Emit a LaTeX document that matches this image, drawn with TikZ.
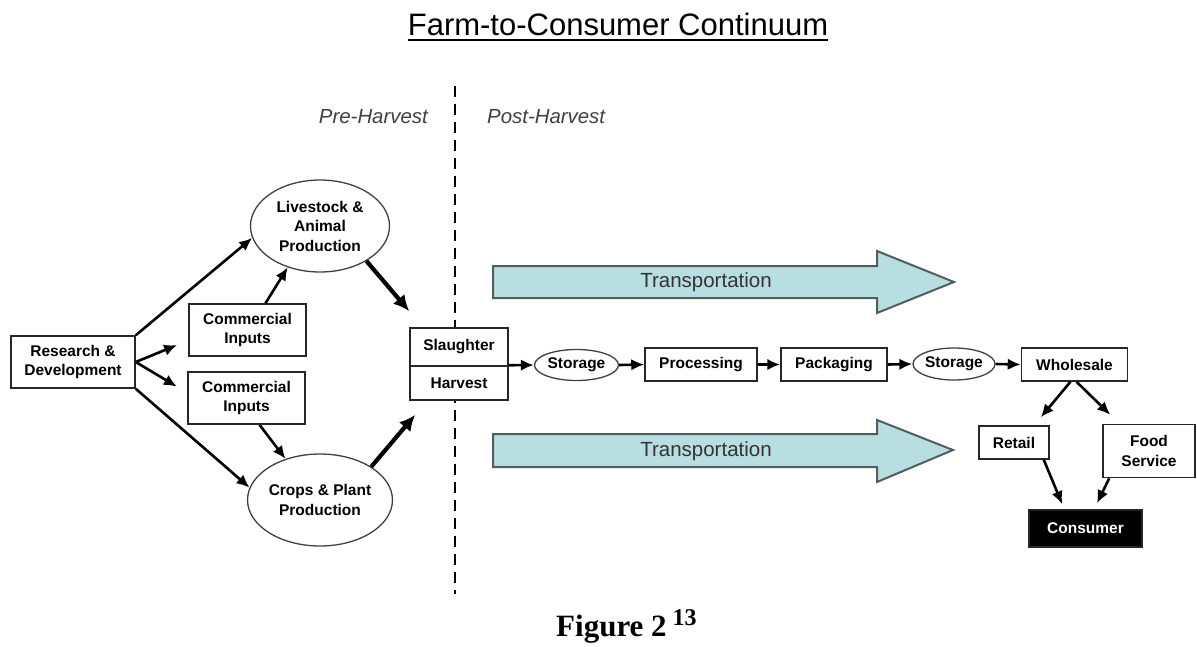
\documentclass[tikz,border=0pt]{standalone}
\usepackage{fontspec}
\setmainfont{Liberation Sans}
\newfontfamily\capfont{Liberation Serif}
\usetikzlibrary{shapes.geometric,arrows.meta,calc}

\definecolor{transblue}{HTML}{B8DEE2}
\definecolor{transedge}{HTML}{4F5F5F}

\tikzset{
  lbl/.style={font=\fontsize{15.5}{19.5}\selectfont\bfseries, align=center, inner sep=0pt},
  box/.style={lbl, draw=black!85, fill=white, line width=1.5pt},
  oval/.style={lbl, draw=black!75, fill=white, line width=1.3pt, ellipse},
  flow/.style={-{Latex[length=13pt,width=11.5pt]}, line width=2.6pt},
  bigflow/.style={-{Latex[length=16pt,width=15pt]}, line width=4.2pt},
  truck/.style={fill=transblue, draw=transedge, line width=2pt},
  phase/.style={font=\fontsize{20.4}{24}\selectfont\itshape, text=black!75, inner sep=0pt},
  transtext/.style={font=\fontsize{20.5}{24}\selectfont, text=black!80, inner sep=0pt}
}

\begin{document}
\begin{tikzpicture}[x=1pt,y=1pt,yscale=-1]
    \useasboundingbox (0,0) rectangle (1197,646);
    % title
    \node[inner sep=0pt, anchor=base, font=\fontsize{31}{36}\selectfont] (title) at (618,35) {Farm-to-Consumer Continuum};
    \draw[line width=1.6pt] ($(title.base west)+(0,5)$) -- ($(title.base east)+(0,5)$);

    % pre / post harvest divide
    \coordinate (cut top) at (455,86);
    \coordinate (cut bot) at (455,594);
    \draw[line width=2.6pt, dash pattern=on 11pt off 7pt] (cut top) -- (cut bot);
    \node[phase, anchor=base east] (pre) at (428,123) {Pre-Harvest};
    \node[phase, anchor=base west] (post) at (487,123) {Post-Harvest};

    % transportation arrows
    \draw[truck] (493,266) -- (877,266) -- (877,251) -- (954,282) -- (877,313) -- (877,298) -- (493,298) -- cycle;
    \node[transtext] (trans top) at (706,282) {Transportation};
    \draw[truck] (493,434) -- (877,434) -- (877,420) -- (953,450) -- (877,482) -- (877,467) -- (493,467) -- cycle;
    \node[transtext] (trans bot) at (706,451) {Transportation};

    % pre-harvest
    \node[box, minimum width=124, minimum height=52] (rd) at (73,362) {Research \&\\Development};
    \node[box, minimum width=117, minimum height=52] (ci1) at (247.5,330) {Commercial\\Inputs};
    \node[box, minimum width=117, minimum height=52] (ci2) at (246.5,398) {Commercial\\Inputs};
    \node[oval, minimum width=139, minimum height=92] (live) at (320,226) {Livestock \&\\Animal\\Production};
    \node[oval, minimum width=139, minimum height=92] (crops) at (320,500) {Crops \& Plant\\Production};

    % post-harvest chain
    \node[box, minimum width=98, minimum height=38] (slaughter) at (459,347) {Slaughter};
    \node[box, minimum width=98, minimum height=34] (harvest) at (459,383) {Harvest};
    \node[oval, minimum width=84, minimum height=31] (stor1) at (576.5,365) {Storage};
    \node[box, minimum width=112, minimum height=33] (proc) at (701,364.5) {Processing};
    \node[box, minimum width=106, minimum height=33] (pack) at (834,364.5) {Packaging};
    \node[oval, minimum width=82, minimum height=32] (stor2) at (954,364) {Storage};
    \node[box, minimum width=106, minimum height=33] (whole) at (1074.5,364.5) {Wholesale};
    \node[box, minimum width=70, minimum height=33] (retail) at (1014,442.5) {Retail};
    \node[box, minimum width=92, minimum height=53] (food) at (1149,451) {Food\\Service};
    \node[box, fill=black, text=white, minimum width=113, minimum height=37] (consumer) at (1085.5,528.5) {Consumer};

    % connectors
    \draw[flow] (rd.north east) -- (live.190);
    \draw[flow, shorten >=12pt] (rd.east) -- (ci1.190);
    \draw[flow, shorten >=12pt] (rd.east) -- (ci2.175);
    \draw[flow] (rd.south east) -- (crops.170);
    \draw[flow] ($(ci1.north)+(18,0)$) -- (live.232);
    \draw[flow] ($(ci2.south)+(13,0)$) -- (crops.130);
    \draw[bigflow] (live.323) -- ($(slaughter.north west)+(0,-16)$);
    \draw[bigflow] (crops.33) -- ($(harvest.south west)+(6,14)$);
    \draw[flow] (harvest.north east) -- (stor1.west);
    \draw[flow] (stor1.east) -- (proc.west);
    \draw[flow] (proc.east) -- (pack.west);
    \draw[flow] (pack.east) -- (stor2.west);
    \draw[flow] (stor2.east) -- (whole.west);
    \draw[flow] ($(whole.south)+(-4,0)$) -- ($(retail.north east)+(-9,-8)$);
    \draw[flow] ($(whole.south)+(2,0)$) -- ($(food.north west)+(8,-9)$);
    \draw[flow] ($(retail.south east)+(-6,0)$) -- ($(consumer.north west)+(34,-5)$);
    \draw[flow] ($(food.south west)+(7,0)$) -- ($(consumer.north)+(11.5,-6)$);

    % caption
    \node[anchor=base west, inner sep=0pt, font=\capfont\bfseries\fontsize{31}{36}\selectfont] (fig) at (556,636) {Figure 2\hspace{6pt}\raisebox{11pt}{\fontsize{24}{24}\selectfont 13}};
\end{tikzpicture}
\end{document}
